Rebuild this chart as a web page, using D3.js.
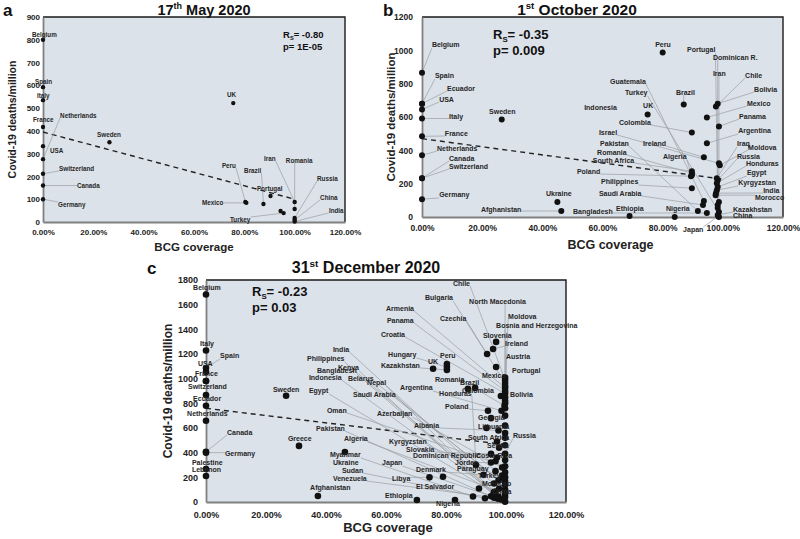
<!DOCTYPE html>
<html>
<head>
<meta charset="utf-8">
<script src="https://cdn.jsdelivr.net/npm/d3@7"></script>
<style>
  body { margin: 0; background: #fff; }
  text { font-family: "Liberation Sans", Arial, sans-serif; font-weight: bold; }
</style>
</head>
<body>
<div id="chart"></div>
<script>
// ---- data: [country, BCG coverage %, deaths per million] ----
const xTickValues = [0, 20, 40, 60, 80, 100, 120];

const mayPoints = [
  ["Belgium", 0, 800], ["Spain", 0, 592], ["Italy", 0, 535], ["France", 0, 417],
  ["USA", 0, 333], ["Netherlands", 0, 276], ["Switzerland", 0, 212], ["Canada", 0, 160],
  ["Germany", 0, 100], ["Sweden", 26.4, 350], ["UK", 75.6, 522], ["Peru", 80.4, 88],
  ["Mexico", 80.8, 84], ["Brazil", 87.6, 79], ["Portugal", 90.4, 114], ["", 94.4, 48],
  ["Turkey", 95.6, 39], ["Iran", 100, 88], ["Romania", 100, 57], ["Russia", 100, 18],
  ["China", 100, 9], ["India", 100, 2]
];
const mayFit = [[0, 395], [100, 100]];
const mayStats = ["-0.80", "1E-05"];

const octPoints = [
  ["Belgium", 0, 866], ["Spain", 0, 680], ["Ecuador", 0, 680], ["USA", 0, 645], ["Italy", 0, 591],
  ["France", 0, 484], ["Netherlands", 0, 370], ["Canada", 0, 233], ["Switzerland", 0, 233],
  ["Germany", 0, 107], ["Sweden", 26.5, 585], ["Ukraine", 45, 90], ["Afghanistan", 46.3, 36],
  ["Ethiopia", 69, 6], ["Nigeria", 84, 0], ["Peru", 80, 987], ["Brazil", 87, 675], ["UK", 75, 615],
  ["Colombia", 89.7, 507], ["Mexico", 94.7, 597], ["Chile", 97.7, 663], ["Bolivia", 98.3, 680],
  ["Panama", 98.7, 543], ["Argentina", 94.7, 442], ["Ireland", 93.7, 358],
  ["South Africa", 89.7, 275], ["Romania", 89.7, 263], ["Algeria", 89.7, 251], ["Poland", 89.4, 245],
  ["Philippines", 89.7, 173], ["Israel", 98.7, 322], ["Moldova", 99, 310], ["Iraq", 98, 233],
  ["Russia", 98.3, 221], ["Honduras", 98, 203], ["Egypt", 98.3, 180], ["Kyrgyzstan", 98, 161],
  ["India", 97.7, 143], ["Morocco", 97.6, 131], ["Guatemala", 93.7, 96], ["Saudi Arabia", 93.4, 72],
  ["Pakistan", 91.7, 36], ["Bangladesh", 94.7, 24], ["Iran", 98.7, 90], ["Portugal", 98.3, 72],
  ["Dominican R.", 98.3, 54], ["Turkey", 98.7, 30], ["Kazakhstan", 98.3, 12], ["Japan", 98.5, 5],
  ["China", 98.7, 0]
];
const octFit = [[0, 470], [100, 227]];
const octStats = ["-0.35", "0.009"];

const decPoints = [
  ["Belgium", 0, 1683], ["Italy", 0, 1228], ["Spain", 0, 1087], ["USA", 0, 1054], ["France", 0, 981],
  ["Switzerland", 0, 981], ["Ecuador", 0, 868], ["Netherlands", 0, 780], ["", 0, 659],
  ["Canada", 0, 407], ["Germany", 0, 400], ["Palestine", 0, 268], ["Lebanon", 0, 211],
  ["Sweden", 26.7, 862], ["Greece", 31, 455], ["Ukraine", 46.3, 405], ["Afghanistan", 37.3, 49],
  ["Ethiopia", 70.3, 16], ["Nigeria", 83, 16], ["UK", 75.7, 1081], ["Peru", 80.3, 1119],
  ["Hungary", 80.3, 1095], ["Kazakhstan", 80.3, 1071], ["Slovenia", 96.7, 1298], ["Ireland", 95.7, 1241],
  ["Czechia", 93.7, 1200], ["Mexico", 96.7, 1095], ["Portugal", 99.7, 1010], ["Chile", 99.7, 989],
  ["Bulgaria", 99.7, 965], ["North Macedonia", 99.7, 941], ["Armenia", 99.7, 925], ["Panama", 99.7, 900],
  ["Croatia", 99.7, 880], ["Bolivia", 98.3, 860], ["Moldova", 99.7, 850], ["Bosnia and Herzegovina", 99.7, 820],
  ["Austria", 99.7, 800], ["Brazil", 89.7, 925], ["Colombia", 87.3, 917], ["Romania", 99.5, 780],
  ["Honduras", 90, 300], ["Argentina", 98.5, 740], ["Poland", 94, 740], ["Georgia", 99.7, 700],
  ["Lithuania", 99.7, 620], ["Albania", 97.5, 580], ["Serbia", 99.7, 520], ["South Africa", 97, 490],
  ["Costa Rica", 97.7, 440], ["Russia", 99.7, 390], ["Slovakia", 95, 390], ["Paraguay", 96.5, 330],
  ["Jordan", 95, 320], ["Oman", 99.7, 290], ["Azerbaijan", 98.7, 280], ["Turkey", 96.5, 250],
  ["Denmark", 92.5, 220], ["Dominican Republic", 98.7, 215], ["Kyrgyzstan", 98.7, 200],
  ["Morocco", 99.7, 200], ["Libya", 74.5, 200], ["El Salvador", 79, 205], ["Saudi Arabia", 97.5, 175],
  ["Belarus", 99.7, 140], ["India", 97.7, 108], ["Philippines", 96.5, 85], ["Indonesia", 96, 80],
  ["Egypt", 96, 75], ["Algeria", 99.7, 65], ["Nepal", 96, 60], ["Pakistan", 95, 47],
  ["Bangladesh", 97.5, 45], ["Myanmar", 89, 45], ["Venezuela", 96, 35], ["Kenya", 97, 30],
  ["Sudan", 93, 30], ["Japan", 97.5, 27], ["China", 99.7, 3],
  ["", 99.7, 760], ["", 99.7, 560], ["", 99.7, 460], ["", 99.7, 340], ["", 99.7, 240],
  ["", 99.7, 170], ["", 99.7, 100], ["", 99.7, 40], ["", 98.5, 20], ["", 97, 360],
  ["", 96, 150], ["", 93.5, 600], ["", 95, 680], ["", 91, 110]
];
const decFit = [[0, 760], [100, 465]];
const decStats = ["-0.23", "0.03"];

// ---- label placement, in data units: [country, x %, y deaths] (text start / baseline) ----
const mayLabelSpots = [
  ["Belgium", -4.4, 812], ["Spain", -3.2, 606], ["Italy", -2.4, 544], ["France", -4.0, 439],
  ["Netherlands", 6.8, 457], ["Sweden", 21.5, 375], ["USA", 2.8, 303], ["Switzerland", 6.4, 224],
  ["Canada", 13.5, 149], ["Germany", 6.0, 66], ["UK", 73.1, 548], ["Peru", 71.1, 237],
  ["Brazil", 79.9, 215], ["Iran", 87.8, 268], ["Romania", 96.5, 259], ["Portugal", 85.0, 134],
  ["Russia", 108.9, 180], ["China", 110.1, 97], ["India", 113.6, 40], ["Mexico", 63.2, 75],
  ["Turkey", 74.3, 0]
];
const octLabelSpots = [
  ["Belgium", 3.3, 1020], ["Spain", 4.3, 834], ["Ecuador", 8.3, 756], ["USA", 5.7, 690],
  ["Italy", 9.0, 588], ["France", 7.6, 486], ["Netherlands", 5.0, 396], ["Canada", 9.0, 336],
  ["Switzerland", 9.0, 288], ["Germany", 5.7, 120], ["Sweden", 22.3, 618], ["Ukraine", 41.2, 126],
  ["Afghanistan", 19.6, 30], ["Bangladesh", 50.2, 18], ["Ethiopia", 64.5, 36], ["Nigeria", 81.1, 36],
  ["Japan", 86.8, -90], ["Peru", 77.5, 1020], ["Portugal", 88.1, 990], ["Dominican R.", 96.7, 942],
  ["Iran", 96.7, 846], ["Chile", 107.4, 834], ["Guatemala", 62.5, 798], ["Bolivia", 110.4, 750],
  ["Turkey", 67.5, 732], ["Brazil", 84.4, 732], ["Mexico", 108.0, 666], ["Indonesia", 53.9, 642],
  ["UK", 73.5, 654], ["Panama", 105.4, 588], ["Colombia", 65.5, 552], ["Argentina", 105.1, 504],
  ["Israel", 58.8, 492], ["Pakistan", 59.2, 426], ["Ireland", 73.5, 426], ["Iraq", 104.7, 426],
  ["Moldova", 108.4, 402], ["Romania", 58.2, 372], ["Algeria", 80.1, 348], ["Russia", 104.7, 348],
  ["South Africa", 56.8, 324], ["Honduras", 107.7, 306], ["Poland", 51.5, 258], ["Egypt", 108.0, 252],
  ["Philippines", 59.5, 198], ["Kyrgyzstan", 105.1, 192], ["India", 113.4, 144],
  ["Saudi Arabia", 58.8, 126], ["Morocco", 110.7, 102], ["Kazakhstan", 103.4, 30], ["China", 103.4, -6]
];
const decLabelSpots = [
  ["Belgium", -4.3, 1719], ["Italy", -2.0, 1265], ["Spain", 4.7, 1168], ["USA", -2.7, 1103],
  ["France", -3.7, 1022], ["Switzerland", -6.0, 916], ["Ecuador", -4.3, 819], ["Netherlands", -6.3, 697],
  ["Canada", 7.0, 543], ["Germany", 6.3, 373], ["Palestine", -4.7, 300], ["Lebanon", -4.7, 243],
  ["Sweden", 22.3, 892], ["Egypt", 34.3, 884], ["Greece", 27.3, 495], ["Chile", 82.3, 1752],
  ["Bulgaria", 73.0, 1638], ["North Macedonia", 87.7, 1606], ["Armenia", 60.0, 1549],
  ["Czechia", 78.0, 1468], ["Moldova", 100.7, 1484], ["Panama", 60.3, 1452],
  ["Bosnia and Herzegovina", 96.7, 1411], ["Croatia", 58.3, 1338], ["Slovenia", 92.3, 1330],
  ["Ireland", 99.7, 1265], ["India", 42.3, 1217], ["Hungary", 60.7, 1176], ["Peru", 78.0, 1168],
  ["Austria", 100.0, 1160], ["Philippines", 33.7, 1144], ["UK", 74.0, 1119], ["Kazakhstan", 58.3, 1087],
  ["Bangladesh", 37.0, 1046], ["Kenya", 44.0, 1071], ["Portugal", 102.0, 1046], ["Mexico", 92.0, 1006],
  ["Indonesia", 34.3, 989], ["Belarus", 47.3, 981], ["Romania", 76.3, 973], ["Nepal", 53.7, 949],
  ["Brazil", 84.7, 949], ["Argentina", 64.7, 908], ["Colombia", 85.3, 884], ["Honduras", 77.7, 860],
  ["Bolivia", 101.3, 852], ["Saudi Arabia", 49.0, 852], ["Poland", 79.7, 754], ["Oman", 40.3, 722],
  ["Azerbaijan", 57.0, 697], ["Georgia", 90.7, 665], ["Albania", 69.3, 600], ["Pakistan", 36.7, 576],
  ["Lithuania", 90.7, 590], ["South Africa", 87.3, 500], ["Algeria", 46.0, 495], ["Russia", 102.3, 515],
  ["Kyrgyzstan", 61.0, 470], ["Serbia", 93.7, 440], ["Slovakia", 66.7, 405], ["Myanmar", 41.3, 365],
  ["Dominican Republic", 69.0, 357], ["Costa Rica", 90.0, 357], ["Jordan", 83.0, 300],
  ["Paraguay", 83.7, 251], ["Ukraine", 42.3, 300], ["Japan", 58.7, 300], ["Turkey", 90.7, 195],
  ["Sudan", 45.3, 235], ["Denmark", 70.0, 243], ["Morocco", 92.0, 130], ["Venezuela", 42.3, 170],
  ["Libya", 62.0, 170], ["El Salvador", 70.0, 105], ["Afghanistan", 34.7, 97],
  ["Ethiopia", 59.7, 32], ["Nigeria", 76.7, -32], ["China", 95.3, 65]
];

// ---- canvas ----
const svg = d3.select("#chart").append("svg")
  .attr("width", 800).attr("height", 539)
  .style("background", "#fff");

function drawPanel(cfg) {
  const x = d3.scaleLinear().domain([0, 120]).range(cfg.xr);
  const y = d3.scaleLinear().domain([0, cfg.yMax]).range(cfg.yr);
  const g = svg.append("g");

  // plot background + top/right frame
  g.append("rect")
    .attr("x", x(0)).attr("y", y(cfg.yMax))
    .attr("width", x(120) - x(0)).attr("height", y(0) - y(cfg.yMax))
    .attr("fill", "#dce2ea");
  g.append("path")
    .attr("d", `M${x(0)},${y(cfg.yMax)}H${x(120)}V${y(0)}`)
    .attr("fill", "none").attr("stroke", "#1a1a1a").attr("stroke-width", 1.4);

  // axes
  const styleAxis = s => {
    s.attr("font-family", null).attr("font-size", null);
    s.select(".domain").attr("stroke", "#808080").attr("stroke-width", 1.8);
    s.selectAll("text").attr("font-size", cfg.tickFs).attr("fill", "#222");
  };
  g.append("g").attr("transform", `translate(${x(0)},0)`)
    .call(d3.axisLeft(y).tickValues(d3.range(0, cfg.yMax + 1, cfg.yStep))
      .tickSize(0).tickPadding(cfg.yPad).tickSizeOuter(0).tickFormat(d3.format("d")))
    .call(styleAxis);
  g.append("g").attr("transform", `translate(0,${y(0)})`)
    .call(d3.axisBottom(x).tickValues(xTickValues).tickSize(0)
      .tickPadding(cfg.xPad).tickSizeOuter(0).tickFormat(d => d.toFixed(2) + "%"))
    .call(styleAxis);

  // regression line
  g.append("path")
    .datum(cfg.fit)
    .attr("d", d3.line().x(d => x(d[0])).y(d => y(d[1])))
    .attr("fill", "none").attr("stroke", "#222")
    .attr("stroke-width", 1.4).attr("stroke-dasharray", "5,4");

  const leaders = g.append("g");

  g.append("g").selectAll("circle")
    .data(cfg.points).join("circle")
    .attr("cx", d => x(d[1])).attr("cy", d => y(d[2]))
    .attr("r", cfg.r).attr("fill", "#111");

  // country labels with leader lines to their points
  const labels = g.append("g");
  cfg.labelSpots.forEach(([name, lx, ly]) => {
    const p = cfg.points.find(d => d[0] === name);
    const t = labels.append("text")
      .attr("x", x(lx)).attr("y", y(ly))
      .attr("font-size", cfg.labelFs).attr("fill", "#262626")
      .text(name);
    if (!p) return;
    const bb = t.node().getBBox();
    const tx = x(p[1]), ty = y(p[2]);
    const cx = Math.max(bb.x, Math.min(tx, bb.x + bb.width));
    const cy = Math.max(bb.y + 1, Math.min(ty, bb.y + bb.height - 1));
    if (Math.hypot(tx - cx, ty - cy) > 9) {
      leaders.append("line")
        .attr("x1", cx).attr("y1", cy).attr("x2", tx).attr("y2", ty)
        .attr("stroke", "#9a9ea4").attr("stroke-width", 0.7);
    }
  });

  // axis titles
  const yMid = (cfg.yr[0] + cfg.yr[1]) / 2;
  g.append("text")
    .attr("transform", `translate(${cfg.yTitleX},${yMid}) rotate(-90)`)
    .attr("text-anchor", "middle").attr("dy", "0.35em")
    .attr("font-size", cfg.axisFs).attr("fill", "#222")
    .text("Covid-19 deaths/million");
  g.append("text")
    .attr("x", (cfg.xr[0] + cfg.xr[1]) / 2 + cfg.xTitleShift).attr("y", cfg.xTitleY)
    .attr("text-anchor", "middle")
    .attr("font-size", cfg.axisFs + 1).attr("fill", "#222")
    .text("BCG coverage");

  // panel title with superscript
  const title = g.append("text")
    .attr("x", cfg.titleX).attr("y", cfg.titleY)
    .attr("text-anchor", "middle").attr("font-size", cfg.titleFs).attr("fill", "#111");
  title.append("tspan").text(cfg.title[0]);
  title.append("tspan").attr("dy", -cfg.titleFs * 0.4).attr("font-size", cfg.titleFs * 0.62).text(cfg.title[1]);
  title.append("tspan").attr("dy", cfg.titleFs * 0.4).text(cfg.title[2]);

  g.append("text")
    .attr("x", cfg.letter[1]).attr("y", cfg.letter[2])
    .attr("font-size", 17).attr("fill", "#111")
    .text(cfg.letter[0]);

  // Spearman statistics
  const rs = g.append("text")
    .attr("x", cfg.statX).attr("y", cfg.statY)
    .attr("font-size", cfg.statFs).attr("fill", "#111");
  rs.append("tspan").text("R");
  rs.append("tspan").attr("dy", cfg.statFs * 0.25).attr("font-size", cfg.statFs * 0.6).text("S");
  rs.append("tspan").attr("dy", -cfg.statFs * 0.25).text("= " + cfg.stats[0]);
  g.append("text")
    .attr("x", cfg.statX).attr("y", cfg.statY + cfg.statFs * 1.25)
    .attr("font-size", cfg.statFs).attr("fill", "#111")
    .text("p= " + cfg.stats[1]);
}

drawPanel({
  points: mayPoints, labelSpots: mayLabelSpots, fit: mayFit, stats: mayStats,
  xr: [43, 345], yr: [222, 17], yMax: 900, yStep: 100,
  tickFs: 8, yPad: 3, xPad: 7, labelFs: 6.3, r: 2.2,
  yTitleX: 12, xTitleShift: 0, xTitleY: 251, axisFs: 10.5,
  title: ["17", "th", " May 2020"], titleX: 204, titleY: 15, titleFs: 14.5,
  letter: ["a", 3, 16], statX: 283, statY: 38, statFs: 9.5
});

drawPanel({
  points: octPoints, labelSpots: octLabelSpots, fit: octFit, stats: octStats,
  xr: [422, 783], yr: [217, 17], yMax: 1200, yStep: 200,
  tickFs: 8.5, yPad: 9, xPad: 8, labelFs: 7, r: 3,
  yTitleX: 391, xTitleShift: 8, xTitleY: 249, axisFs: 11.5,
  title: ["1", "st", " October 2020"], titleX: 577, titleY: 15, titleFs: 15.5,
  letter: ["b", 383, 16], statX: 493, statY: 39, statFs: 13
});

drawPanel({
  points: decPoints, labelSpots: decLabelSpots, fit: decFit, stats: decStats,
  xr: [206, 566], yr: [502, 280], yMax: 1800, yStep: 200,
  tickFs: 9, yPad: 8, xPad: 10, labelFs: 7, r: 3.3,
  yTitleX: 168, xTitleShift: 2, xTitleY: 532, axisFs: 12,
  title: ["31", "st", " December 2020"], titleX: 366, titleY: 273, titleFs: 16,
  letter: ["c", 147, 274], statX: 252, statY: 296, statFs: 13
});
</script>
</body>
</html>
